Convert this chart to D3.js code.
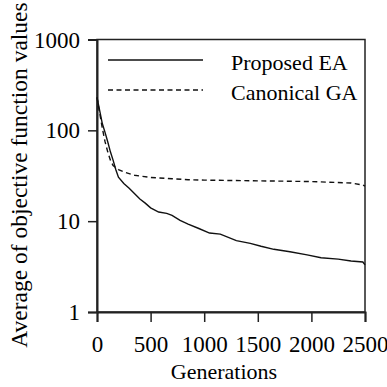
<!DOCTYPE html>
<html><head><meta charset="utf-8">
<script src="https://cdn.jsdelivr.net/npm/d3@7"></script>
<style>body{margin:0;background:#fff}svg{display:block}text{font-family:"Liberation Serif","Times New Roman",serif;fill:#000}</style>
</head><body><svg id="c" width="387" height="387"></svg>
<script>
const xTicks = [0, 500, 1000, 1500, 2000, 2500];
const yTicks = [1, 10, 100, 1000];
const seriesNames = ["Proposed EA", "Canonical GA"];
const eaGen = [0, 25, 50, 75, 100, 125, 150, 175, 200, 250, 300, 400, 450, 500, 575, 650, 700, 775, 850, 950, 1050, 1150, 1300, 1430, 1530, 1650, 1800, 1960, 2090, 2250, 2370, 2480, 2500];
const eaVal = [230, 165, 118, 95, 75, 58, 47, 37, 30.5, 26, 23, 17.5, 15.8, 14, 12.6, 12.2, 11.6, 10.2, 9.3, 8.3, 7.4, 7.2, 6.1, 5.7, 5.3, 4.9, 4.6, 4.25, 3.95, 3.82, 3.64, 3.55, 3.3];
const gaGen = [0, 25, 50, 75, 100, 125, 150, 200, 260, 350, 500, 700, 850, 1000, 1500, 2000, 2370, 2480, 2500];
const gaVal = [230, 155, 105, 75, 58, 47, 41, 37, 34.5, 32, 30.3, 29.3, 28.6, 28.3, 27.8, 27.3, 26.3, 25, 24.3];

const svg = d3.select("#c");
const L = 97, R = 365, T = 39.5, B = 312;
const x = d3.scaleLinear().domain([0, 2500]).range([L, R]);
const y = d3.scaleLog().domain([1, 1000]).range([B, T]);

// frame
svg.append("rect").attr("x", L).attr("y", T).attr("width", R - L).attr("height", B - T)
  .attr("fill", "none").attr("stroke", "#222").attr("stroke-width", 1.5);

// axes
const xa = svg.append("g").attr("transform", `translate(0,${B})`)
  .call(d3.axisBottom(x).tickValues(xTicks).tickSize(10).tickPadding(14).tickFormat(d3.format("d")));
const ya = svg.append("g").attr("transform", `translate(${L},0)`)
  .call(d3.axisLeft(y).tickValues(yTicks).tickSize(9).tickPadding(8).tickFormat(d3.format("d")));
[xa, ya].forEach(a => {
  a.select(".domain").attr("stroke", "#222").attr("stroke-width", 2);
  a.selectAll(".tick line").attr("stroke", "#222").attr("stroke-width", 1.5);
  a.selectAll("text").style("font-size", "23px").attr("fill", "#000");
});
ya.selectAll("text").attr("dy", "0.33em");

const line = d3.line().x(d => x(d[0])).y(d => y(d[1]));
const ea = eaGen.map((g, i) => [g, eaVal[i]]);
const ga = gaGen.map((g, i) => [g, gaVal[i]]);
svg.append("path").datum(ga).attr("d", line).attr("fill", "none").attr("stroke", "#111")
  .attr("stroke-width", 1.4).attr("stroke-dasharray", "5,3.5");
svg.append("path").datum(ea).attr("d", line).attr("fill", "none").attr("stroke", "#111")
  .attr("stroke-width", 1.4);

// legend
const leg = [{y: 60, dash: null}, {y: 90, dash: "5,3.5"}];
leg.forEach((l, i) => {
  svg.append("line").attr("x1", 108).attr("x2", 203).attr("y1", l.y).attr("y2", l.y)
    .attr("stroke", "#111").attr("stroke-width", 1.4).attr("stroke-dasharray", l.dash);
  svg.append("text").attr("x", 231).attr("y", l.y + 10).style("font-size", "22px").text(seriesNames[i]);
});

// titles
svg.append("text").attr("x", 224).attr("y", 379).attr("text-anchor", "middle").style("font-size", "22px").text("Generations");
svg.append("text").attr("transform", "translate(27,175) rotate(-90)").attr("text-anchor", "middle")
  .style("font-size", "23.5px").text("Average of objective function values");
</script></body></html>
